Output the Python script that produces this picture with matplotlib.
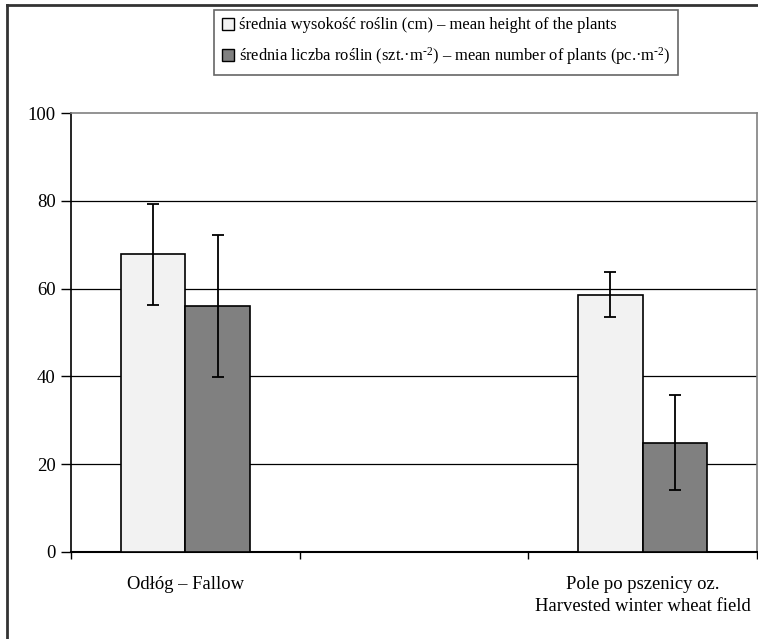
import matplotlib
matplotlib.use('Agg')
import matplotlib.pyplot as plt
from matplotlib.lines import Line2D
from matplotlib.patches import Patch

plt.rcParams['font.family'] = ['Liberation Serif', 'DejaVu Serif']
plt.rcParams['mathtext.fontset'] = 'custom'
plt.rcParams['mathtext.rm'] = 'Liberation Serif'
plt.rcParams['mathtext.default'] = 'regular'

categories = ['Odłóg – Fallow', '', 'Pole po pszenicy oz.\nHarvested winter wheat field']
height_mean = [67.8, None, 58.6]
height_err = [11.6, None, 5.1]
number_mean = [56.0, None, 24.9]
number_err = [16.2, None, 10.9]
legend_labels = ['średnia wysokość roślin (cm) – mean height of the plants',
                 'średnia liczba roślin (szt.·m$^{‐2}$) – mean number of plants (pc.·m$^{‐2}$)']
y_ticks = [0, 20, 40, 60, 80, 100]

fig = plt.figure(figsize=(7.58, 6.39), dpi=100)
ax = fig.add_axes([71 / 758, 1 - 551.7 / 639, 686 / 758, (551.7 - 113.3) / 639])

width = 0.282
xs = [i for i, v in enumerate(height_mean) if v is not None]
h = [height_mean[i] for i in xs]
he = [height_err[i] for i in xs]
n = [number_mean[i] for i in xs]
ne = [number_err[i] for i in xs]

ax.bar([x - width / 2 for x in xs], h, width, color='#f2f2f2', edgecolor='black',
       linewidth=1.2, zorder=3)
ax.bar([x + width / 2 for x in xs], n, width, color='#808080', edgecolor='black',
       linewidth=1.2, zorder=3)
ax.errorbar([x - width / 2 for x in xs], h, yerr=he, fmt='none', ecolor='black',
            elinewidth=1.3, capsize=4.2, capthick=1.3, zorder=4)
ax.errorbar([x + width / 2 for x in xs], n, yerr=ne, fmt='none', ecolor='black',
            elinewidth=1.3, capsize=4.2, capthick=1.3, zorder=4)

ax.set_xlim(-0.5, len(categories) - 0.5)
ax.set_ylim(0, 100)
ax.set_yticks(y_ticks)
ax.set_yticklabels([str(t) for t in y_ticks], fontsize=13.5)
for t in y_ticks[1:-1]:
    ax.axhline(t, color='black', linewidth=0.9, zorder=1)

ax.set_xticks([i - 0.5 for i in range(len(categories) + 1)])
ax.set_xticklabels([])
ax.tick_params(axis='x', direction='out', length=5, width=1, color='black')
ax.tick_params(axis='y', direction='out', length=7, width=1, color='black', pad=4)
for i, c in enumerate(categories):
    ax.text(i, -5.5, c, ha='center', va='top', fontsize=13.4, linespacing=1.4)

ax.spines['left'].set_linewidth(1.2)
ax.spines['bottom'].set_linewidth(1.5)
ax.spines['top'].set_color('#808080')
ax.spines['right'].set_color('#808080')
ax.spines['top'].set_linewidth(1.2)
ax.spines['right'].set_linewidth(1.2)

# outer chart frame
fig.add_artist(Line2D([7 / 758, 7 / 758], [0, 1 - 5 / 639], color='#333333', linewidth=2))
fig.add_artist(Line2D([7 / 758, 1], [1 - 5 / 639, 1 - 5 / 639], color='#333333', linewidth=2))

handles = [Patch(facecolor='#f2f2f2', edgecolor='black', linewidth=1),
           Patch(facecolor='#808080', edgecolor='black', linewidth=1)]
leg = fig.legend(handles, legend_labels, loc='upper center', bbox_to_anchor=(446 / 758, 1 - 10 / 639),
                 fontsize=11.85, frameon=True, fancybox=False, handlelength=0.75, handleheight=0.75,
                 handletextpad=0.3, borderpad=0.45, labelspacing=0.72, borderaxespad=0)
leg.get_frame().set_edgecolor('#404040')
leg.get_frame().set_linewidth(1.2)

fig.savefig('out.png', dpi=100)
